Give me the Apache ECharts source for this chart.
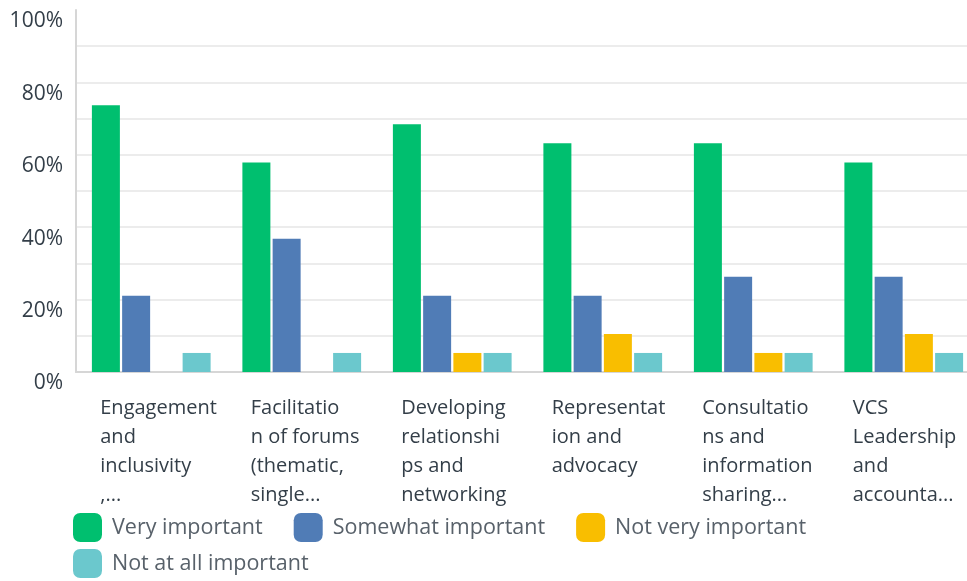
<!DOCTYPE html>
<html>
<head>
<meta charset="utf-8">
<script src="https://cdn.jsdelivr.net/npm/echarts@6/dist/echarts.min.js"></script>
<style>html,body{margin:0;padding:0;background:#fff}#c{width:967px;height:581px}</style>
</head>
<body>
<div id="c"></div>
<script>
var categories = [
  'Engagement\nand\ninclusivity\n,...',
  'Facilitatio\nn of forums\n(thematic,\nsingle...',
  'Developing\nrelationshi\nps and\nnetworking',
  'Representat\nion and\nadvocacy',
  'Consultatio\nns and\ninformation\nsharing...',
  'VCS\nLeadership\nand\naccounta...'
];
var seriesNames = ['Very important', 'Somewhat important', 'Not very important', 'Not at all important'];
var veryImportant = [73.68, 57.89, 68.42, 63.16, 63.16, 57.89];
var somewhatImportant = [21.05, 36.84, 21.05, 21.05, 26.32, 26.32];
var notVeryImportant = [0, 0, 5.26, 10.53, 5.26, 10.53];
var notAtAllImportant = [5.26, 5.26, 5.26, 5.26, 5.26, 5.26];
var colors = ['#00bf6f', '#507cb6', '#f9be00', '#6bc8cd'];

var chart = echarts.init(document.getElementById('c'), null, {renderer: 'canvas'});
var font = '"Open Sans", "Noto Sans", sans-serif';
var allValues = [veryImportant, somewhatImportant, notVeryImportant, notAtAllImportant];
var splitColors = [];
for (var i = 0; i < 10; i++) splitColors.push('#ececec');
splitColors.push('rgba(0,0,0,0)');

var legendText = {fontFamily: font, fontSize: 21.5, color: '#58616a', padding: [0, 0, 0, 5]};

chart.setOption({
  animation: false,
  color: colors,
  grid: {left: 76, width: 903, top: 10, height: 362, containLabel: false, outerBoundsMode: 'none'},
  legend: [
    {
      data: seriesNames.slice(0, 3),
      left: 73, top: 513, padding: 0,
      itemWidth: 29, itemHeight: 29, itemGap: 31,
      icon: 'roundRect',
      textStyle: legendText
    },
    {
      data: seriesNames.slice(3),
      left: 73, top: 549, padding: 0,
      itemWidth: 29, itemHeight: 29, itemGap: 31,
      icon: 'roundRect',
      textStyle: legendText
    }
  ],
  xAxis: {
    type: 'category',
    data: categories,
    axisLine: {show: true, lineStyle: {color: '#d6d6d6', width: 2}},
    axisTick: {show: false},
    axisLabel: {
      interval: 0,
      margin: 22,
      align: 'center',
      formatter: function (v) {
        return v.split('\n').map(function (l) { return '{a|' + l + '}'; }).join('\n');
      },
      rich: {
        a: {width: 102, align: 'left', fontFamily: font, fontSize: 20, lineHeight: 29, color: '#333e48'}
      }
    }
  },
  yAxis: {
    type: 'value',
    min: 0, max: 100, interval: 10,
    axisLine: {show: true, lineStyle: {color: '#d6d6d6', width: 2}},
    axisTick: {show: false},
    splitLine: {show: true, lineStyle: {color: splitColors, width: 2}},
    axisLabel: {
      margin: 13,
      verticalAlign: 'top',
      padding: [1, 0, 0, 0],
      fontFamily: font, fontSize: 21, color: '#333e48',
      formatter: function (v) { return v % 20 === 0 ? v + '%' : ''; }
    }
  },
  series: seriesNames.map(function (n, i) {
    return {
      name: n, type: 'bar', data: allValues[i],
      barWidth: 28, barGap: '8%',
      itemStyle: {color: colors[i]}
    };
  })
});
</script>
</body>
</html>
